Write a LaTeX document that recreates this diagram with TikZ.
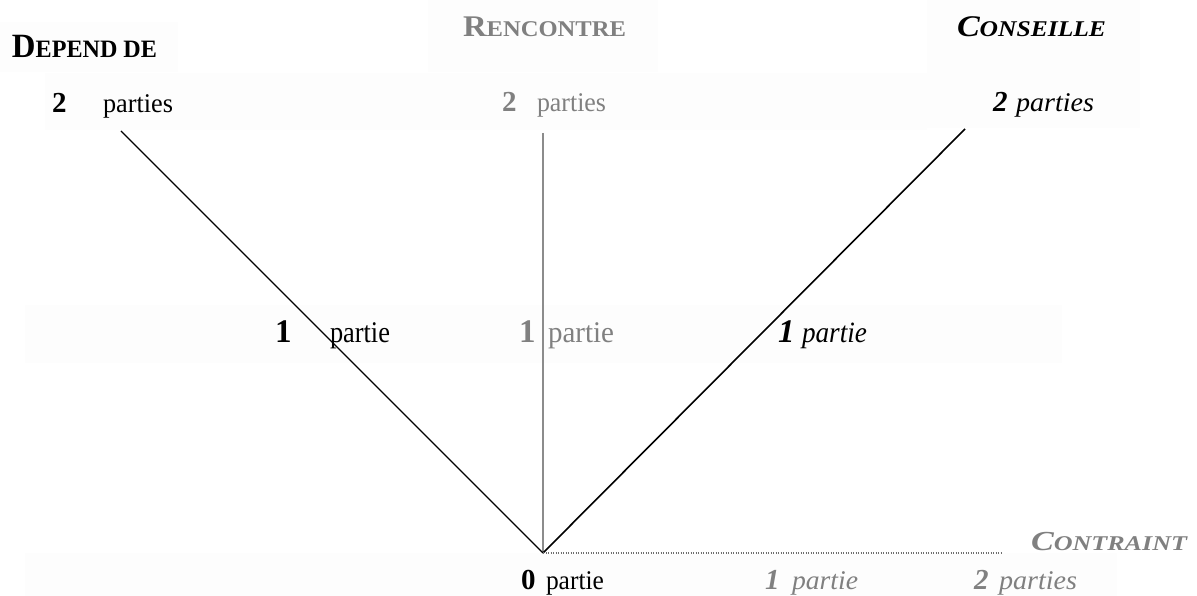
\documentclass[tikz,border=0pt]{standalone}
\usepackage{fontspec}
\setmainfont{Liberation Serif}
\usepackage{graphicx}
\definecolor{txtgray}{RGB}{128,128,128}
\definecolor{linegray}{RGB}{140,140,140}
\definecolor{dotgray}{RGB}{110,110,110}
\definecolor{bgpale}{RGB}{253,253,253}
\newcommand\fs[1]{\fontsize{#1}{#1}\selectfont}
\newcommand\fitw[2]{\resizebox{#1pt}{\height}{#2}}
\tikzset{
  lbl/.style={anchor=base west, inner sep=0pt, outer sep=0pt},
  gr/.style={text=txtgray},
  bgbox/.style={fill=bgpale, draw=none},
  blackline/.style={draw=black, line width=1.2pt},
  blacklinethick/.style={draw=black, line width=1.6pt},
  grayline/.style={draw=linegray, line width=1.6pt},
  dotline/.style={draw=dotgray, line width=1.2pt, dash pattern=on 1pt off 1.5pt}
}
\begin{document}
\begin{tikzpicture}[x=1pt,y=-1pt]
\useasboundingbox (0,0) rectangle (1197,596);
% faint background panels
\fill[bgbox] (0,22) rectangle (178,72);
\fill[bgbox] (428,0) rectangle (658,72);
\fill[bgbox] (927,0) rectangle (1140,128);
\fill[bgbox] (45,73) rectangle (927,130);
\fill[bgbox] (25,305) rectangle (1062,363);
\fill[bgbox] (25,553) rectangle (1117,596);
% end points
\coordinate (O) at (543,553);
\coordinate (L) at (121,131);
\coordinate (M) at (543,133);
\coordinate (R) at (965,129);
\coordinate (E) at (1003,553);
% connectors
\draw[grayline] (M) -- (O);
\draw[blackline] (L) -- (O);
\draw[blacklinethick] (O) -- (R);
\draw[dotline] (O) -- (E);
% titles
\node[lbl] (tdep) at (12,58) {\fitw{145}{\bfseries\fs{34}D\fs{25}EPEND DE}};
\node[lbl,gr] (tren) at (463,37) {\fitw{163}{\bfseries\fs{30}R\fs{22.5}ENCONTRE}};
\node[lbl] (tcon) at (957,37) {\fitw{149}{\bfseries\itshape\fs{30}C\fs{22.5}ONSEILLE}};
\node[lbl,gr] (tctr) at (1031,550) {\fitw{156}{\bfseries\itshape\fs{27.5}C\fs{21}ONTRAINT}};
% top row
\node[lbl] (a2) at (52,113) {\bfseries\fs{29}2};
\node[lbl] (ap) at (103,113) {\fitw{70}{\fs{27}parties}};
\node[lbl,gr] (b2) at (502,112) {\bfseries\fs{29}2};
\node[lbl,gr] (bp) at (537,112) {\fitw{69}{\fs{27}parties}};
\node[lbl] (c2) at (993,112) {\bfseries\itshape\fs{29}2};
\node[lbl] (cp) at (1016,112) {\fitw{78}{\itshape\fs{27}parties}};
% middle row
\node[lbl] (a1) at (275,342) {\bfseries\fs{33}1};
\node[lbl] (ap1) at (330,342) {\fitw{60}{\fs{30}partie}};
\node[lbl,gr] (b1) at (519,342) {\bfseries\fs{33}1};
\node[lbl,gr] (bp1) at (548,342) {\fitw{66}{\fs{30}partie}};
\node[lbl] (c1) at (778,342) {\bfseries\itshape\fs{33}1};
\node[lbl] (cp1) at (802,342) {\fitw{65}{\itshape\fs{29.5}partie}};
% bottom row
\node[lbl] (z0) at (521,589) {\bfseries\fs{29}0};
\node[lbl] (zp) at (546,589) {\fitw{58}{\fs{27}partie}};
\node[lbl,gr] (y1) at (765,589) {\bfseries\itshape\fs{29}1};
\node[lbl,gr] (yp) at (792,589) {\fitw{66}{\itshape\fs{27}partie}};
\node[lbl,gr] (x2) at (974,589) {\bfseries\itshape\fs{29}2};
\node[lbl,gr] (xp) at (999,589) {\fitw{78}{\itshape\fs{27}parties}};
\end{tikzpicture}
\end{document}
